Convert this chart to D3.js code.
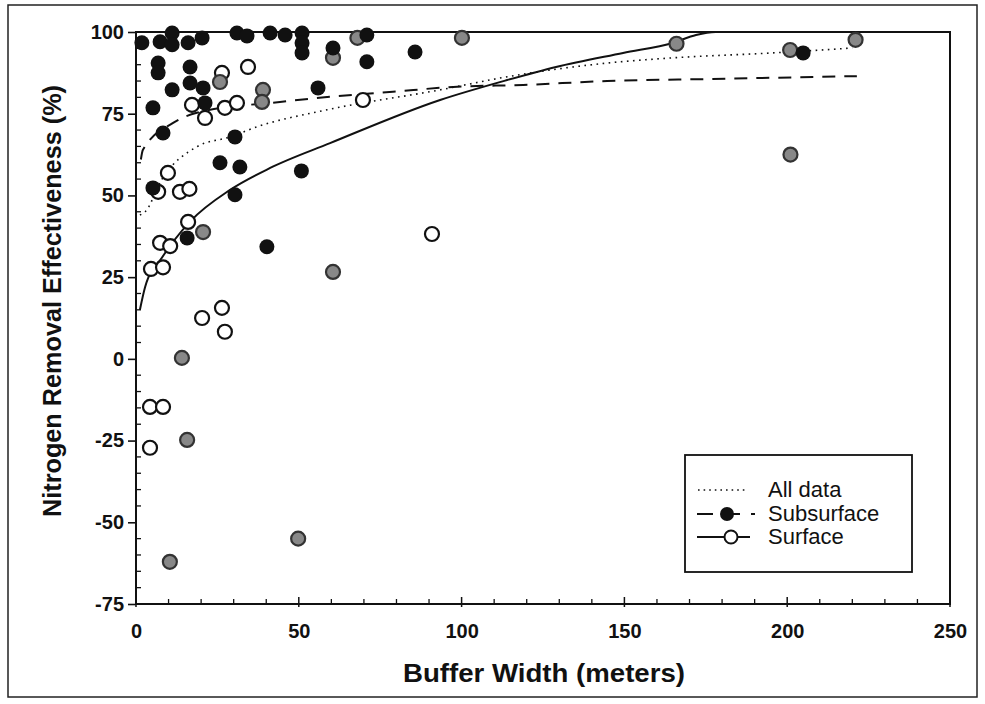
<!DOCTYPE html>
<html><head><meta charset="utf-8">
<script src="https://cdn.jsdelivr.net/npm/d3@7"></script>
<style>body{margin:0;background:#fff}svg{display:block}</style>
</head><body>
<svg id="chart" width="985" height="704"></svg>
<script>
// ---- data ----
const xTicks = [0, 50, 100, 150, 200, 250];
const yTicks = [-75, -50, -25, 0, 25, 50, 75, 100];

// Subsurface (filled) points [buffer width, effectiveness]
const subsurface = [
  [1.8,96.7],[7.4,97.0],[11.1,99.7],[11.1,96.1],[16.0,96.7],[20.3,98.2],[31.0,99.7],[34.1,98.8],
  [41.2,99.7],[45.8,99.1],[51.0,99.7],[51.0,96.6],[51.0,93.6],[60.5,95.1],[70.9,99.1],[70.9,90.9],
  [85.7,93.9],[6.8,90.5],[6.8,87.5],[16.6,89.3],[16.6,84.4],[11.1,82.3],[20.6,82.9],[21.2,78.3],
  [5.2,76.8],[8.3,69.1],[30.4,67.9],[55.9,82.9],[25.8,60.0],[31.9,58.7],[5.2,52.3],[30.4,50.2],
  [15.7,37.0],[40.2,34.3],[50.8,57.5],[204.9,93.6]
];
// faint (grey-printed) markers
const faint = [
  [10.4,-62.1],[49.8,-55.0],[15.7,-24.8],[14.1,0.3],[60.5,26.6],[20.6,38.8],[201.0,62.5],
  [100.1,98.2],[166.0,96.4],[221.0,97.6],[200.9,94.5],[68.0,98.2],[60.5,92.1],[39.0,82.3],
  [38.7,78.6],[25.8,84.7]
];
// Surface (open) points
const surface = [
  [26.4,87.5],[34.4,89.3],[17.2,77.7],[21.2,73.7],[27.3,76.8],[31.0,78.3],[69.7,79.2],
  [9.8,56.9],[6.8,51.1],[13.5,51.1],[16.4,52.0],[16.0,41.9],[7.4,35.5],[10.5,34.5],
  [4.6,27.5],[8.3,28.0],[20.3,12.5],[26.4,15.6],[27.3,8.3],[4.3,-14.7],[8.3,-14.7],
  [4.3,-27.2],[90.9,38.2]
];
// fitted curves
const curveAll = [[1.2,44],[2.8,45],[8,55],[18.7,64.9],[28.9,67.9],[37.2,71],[58.7,76.2],[93.4,82.3],
  [114,86.3],[144.7,90.5],[165,92.1],[195.6,93.6],[220,95.1]];
const curveSub = [[1.5,61],[2.1,63.9],[11.4,72.2],[18.7,75.3],[44.2,78.6],[58.7,80.1],[78.9,81.7],
  [97.4,83.2],[118.9,83.8],[144.7,85.0],[175.4,85.6],[221.4,86.5]];
const curveSurf = [[1.2,15],[2.8,22],[8,31],[16.6,42],[28.9,51.7],[41.2,58.4],[59.6,66],[93.4,79.2],
  [114,85.3],[129,89.3],[149.6,93.6],[165,96.7],[172,99.1],[178,100],[222,100]];
const legendItems = ["All data", "Subsurface", "Surface"];

// ---- drawing ----
const svg = d3.select("#chart");
const L = 136, R = 950, T = 32, B = 604;
const x = d3.scaleLinear().domain([0, 250]).range([L, R]);
const y = d3.scaleLinear().domain([-75, 100]).range([B, T]);
const font = "'Liberation Sans', Arial, sans-serif";
const ink = "#111";

// outer border
svg.append("rect").attr("x", 8).attr("y", 5).attr("width", 969).attr("height", 692)
  .attr("fill", "none").attr("stroke", "#222").attr("stroke-width", 1.5);

// minor ticks
const g = svg.append("g");
d3.range(-75, 101, 5).forEach(v => {
  if (v % 25 !== 0) g.append("line").attr("x1", L).attr("x2", L + 5).attr("y1", y(v)).attr("y2", y(v))
    .attr("stroke", ink).attr("stroke-width", 1.3);
});
d3.range(0, 251, 10).forEach(v => {
  if (v % 50 !== 0) g.append("line").attr("x1", x(v)).attr("x2", x(v)).attr("y1", B).attr("y2", B - 5)
    .attr("stroke", ink).attr("stroke-width", 1.3);
});

// axes
const fmt = d => String(d);
const yAxis = svg.append("g").attr("transform", `translate(${L},0)`)
  .call(d3.axisLeft(y).tickValues(yTicks).tickFormat(fmt).tickSize(8).tickPadding(4));
const xAxis = svg.append("g").attr("transform", `translate(0,${B})`)
  .call(d3.axisBottom(x).tickValues(xTicks).tickFormat(fmt).tickSize(0).tickPadding(20));
[yAxis, xAxis].forEach(a => {
  a.select(".domain").remove();
  a.selectAll("line").attr("stroke", ink).attr("stroke-width", 1.6);
  a.selectAll("text").attr("font-family", font).attr("font-size", 20).attr("font-weight", "bold").attr("fill", ink);
});
// x major ticks crossing axis
xTicks.forEach(v => g.append("line").attr("x1", x(v)).attr("x2", x(v)).attr("y1", B - 7).attr("y2", B + 3)
  .attr("stroke", ink).attr("stroke-width", 1.5));

// frame
svg.append("rect").attr("x", L).attr("y", T).attr("width", R - L).attr("height", B - T)
  .attr("fill", "none").attr("stroke", ink).attr("stroke-width", 2);

// curves
const line = d3.line().x(d => x(d[0])).y(d => y(d[1])).curve(d3.curveMonotoneX);
svg.append("path").datum(curveAll).attr("d", line).attr("fill", "none").attr("stroke", ink)
  .attr("stroke-width", 1.6).attr("stroke-dasharray", "1.6,4.5");
svg.append("path").datum(curveSub).attr("d", line).attr("fill", "none").attr("stroke", ink)
  .attr("stroke-width", 2).attr("stroke-dasharray", "13,9");
svg.append("path").datum(curveSurf).attr("d", line).attr("fill", "none").attr("stroke", ink)
  .attr("stroke-width", 2);

// points
const r = 7;
svg.append("g").selectAll("circle").data(surface).join("circle")
  .attr("cx", d => x(d[0])).attr("cy", d => y(d[1])).attr("r", r)
  .attr("fill", "#fff").attr("stroke", ink).attr("stroke-width", 2.2);
svg.append("g").selectAll("circle").data(faint).join("circle")
  .attr("cx", d => x(d[0])).attr("cy", d => y(d[1])).attr("r", r)
  .attr("fill", "#888").attr("stroke", "#333").attr("stroke-width", 2.2);
svg.append("g").selectAll("circle").data(subsurface).join("circle")
  .attr("cx", d => x(d[0])).attr("cy", d => y(d[1])).attr("r", r + 0.5)
  .attr("fill", ink).attr("stroke", "none");

// axis titles
svg.append("text").attr("x", 544).attr("y", 682).attr("text-anchor", "middle")
  .attr("font-family", font).attr("font-size", 25).attr("font-weight", "bold").attr("fill", ink)
  .attr("textLength", 282).attr("lengthAdjust", "spacingAndGlyphs")
  .text("Buffer Width (meters)");
svg.append("text").attr("transform", "translate(61,301) rotate(-90)").attr("text-anchor", "middle")
  .attr("font-family", font).attr("font-size", 25).attr("font-weight", "bold").attr("fill", ink)
  .attr("textLength", 432).attr("lengthAdjust", "spacingAndGlyphs")
  .text("Nitrogen Removal Effectiveness (%)");

// legend
const lg = svg.append("g");
lg.append("rect").attr("x", 685).attr("y", 455).attr("width", 227).attr("height", 117)
  .attr("fill", "#fff").attr("stroke", ink).attr("stroke-width", 1.8);
const ly = [490, 514, 537];
legendItems.forEach((t, i) => {
  if (i === 0) {
    lg.append("line").attr("x1", 698).attr("x2", 747).attr("y1", ly[i]).attr("y2", ly[i])
      .attr("stroke", ink).attr("stroke-width", 1.6).attr("stroke-dasharray", "1.6,4");
  } else if (i === 1) {
    lg.append("line").attr("x1", 697).attr("x2", 755).attr("y1", ly[i]).attr("y2", ly[i])
      .attr("stroke", ink).attr("stroke-width", 2.2).attr("stroke-dasharray", "16,11");
    lg.append("circle").attr("cx", 727).attr("cy", ly[i]).attr("r", 7).attr("fill", ink);
  } else {
    lg.append("line").attr("x1", 697).attr("x2", 750).attr("y1", ly[i]).attr("y2", ly[i])
      .attr("stroke", ink).attr("stroke-width", 1.8);
    lg.append("circle").attr("cx", 731).attr("cy", ly[i]).attr("r", 6.5)
      .attr("fill", "#fff").attr("stroke", ink).attr("stroke-width", 2);
  }
  lg.append("text").attr("x", 768).attr("y", ly[i] + 7).attr("font-family", font).attr("font-size", 22)
    .attr("fill", ink).text(t);
});
</script>
</body></html>
